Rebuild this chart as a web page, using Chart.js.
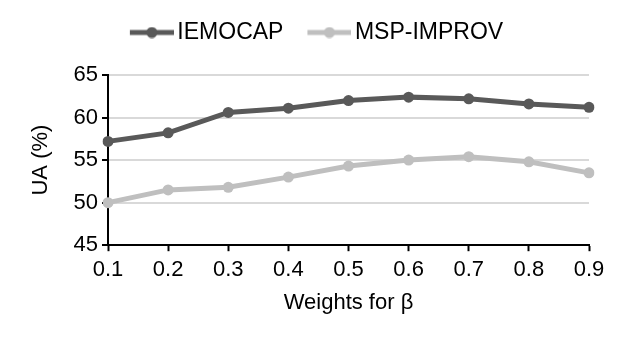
<!DOCTYPE html>
<html>
<head>
<meta charset="utf-8">
<script src="https://cdn.jsdelivr.net/npm/chart.js@4.4.1/dist/chart.umd.min.js"></script>
<style>
  html, body { margin: 0; padding: 0; background: #fff; }
  #wrap { width: 629px; height: 346px; }
</style>
</head>
<body>
<div id="wrap"><canvas id="myChart"></canvas></div>
<script>
// data
const weights = ['0.1', '0.2', '0.3', '0.4', '0.5', '0.6', '0.7', '0.8', '0.9'];
const iemocap = [57.2, 58.2, 60.6, 61.1, 62.0, 62.4, 62.2, 61.6, 61.2];
const mspImprov = [50.0, 51.5, 51.8, 53.0, 54.3, 55.0, 55.4, 54.8, 53.5];
const yTicks = [45, 50, 55, 60, 65];

const darkGray = '#595959';
const lightGray = '#bfbfbf';
const font = "'Liberation Sans', Arial, sans-serif";

// legend marker: a short line with a dot on it
function legendMarker(color) {
    const c = document.createElement('canvas');
    c.width = 62;
    c.height = 12;
    const g = c.getContext('2d');
    g.strokeStyle = color;
    g.lineWidth = 5;
    g.beginPath();
    g.moveTo(18, 6);
    g.lineTo(62, 6);
    g.stroke();
    g.fillStyle = color;
    g.beginPath();
    g.arc(40, 6, 5.5, 0, Math.PI * 2);
    g.fill();
    return c;
}

// push the plot a bit further below the legend, and nudge the legend right
const legendGap = {
    id: 'legendGap',
    beforeUpdate(chart) {
        const legend = chart.legend;
        if (legend && !legend._gapPatched) {
            const fit = legend.fit;
            legend.fit = function () {
                fit.call(this);
                this.height += 21;
            };
            legend._gapPatched = true;
        }
    },
    afterLayout(chart) {
        if (chart.legend) {
            chart.legend.left += 17;
            chart.legend.right += 17;
        }
    }
};

const ctx = document.getElementById('myChart').getContext('2d');

const myChart = new Chart(ctx, {
    type: 'line',
    data: {
        labels: weights,
        datasets: [{
            label: 'IEMOCAP',
            data: iemocap,
            borderColor: darkGray,
            backgroundColor: darkGray,
            borderWidth: 5,
            pointRadius: 5.5,
            pointBorderWidth: 0
        }, {
            label: 'MSP-IMPROV',
            data: mspImprov,
            borderColor: lightGray,
            backgroundColor: lightGray,
            borderWidth: 5,
            pointRadius: 5.5,
            pointBorderWidth: 0
        }]
    },
    plugins: [legendGap],
    options: {
        responsive: true,
        maintainAspectRatio: false,
        animation: false,
        elements: {
            line: { tension: 0 },
            point: { pointStyle: 'circle' }
        },
        layout: {
            padding: { left: 0, right: 40, top: 7, bottom: 30 }
        },
        plugins: {
            tooltip: { enabled: false },
            legend: {
                display: true,
                position: 'top',
                labels: {
                    color: '#000',
                    font: { family: font, size: 23 },
                    usePointStyle: true,
                    pointStyleWidth: 46,
                    padding: 14,
                    generateLabels: (chart) => chart.data.datasets.map((ds, i) => ({
                        text: ds.label,
                        fillStyle: ds.borderColor,
                        strokeStyle: ds.borderColor,
                        lineWidth: 0,
                        pointStyle: legendMarker(ds.borderColor),
                        datasetIndex: i
                    }))
                }
            }
        },
        scales: {
            x: {
                offset: false,
                grid: {
                    drawOnChartArea: false,
                    drawTicks: true,
                    tickLength: 6,
                    tickColor: '#000',
                    tickWidth: 2
                },
                border: { color: '#000', width: 2 },
                ticks: {
                    color: '#000',
                    font: { family: font, size: 22 },
                    padding: 6,
                    maxRotation: 0
                },
                title: {
                    display: true,
                    text: 'Weights for β',
                    color: '#000',
                    font: { family: font, size: 22 },
                    padding: { top: 0, bottom: 0 }
                }
            },
            y: {
                min: 45,
                max: 65,
                afterBuildTicks: (scale) => {
                    scale.ticks = yTicks.map(v => ({ value: v }));
                },
                afterFit: (scale) => {
                    scale.width = 108;
                },
                grid: {
                    color: '#d9d9d9',
                    lineWidth: 2,
                    tickLength: 6,
                    tickColor: '#000',
                    tickWidth: 2
                },
                border: { color: '#000', width: 2 },
                ticks: {
                    color: '#000',
                    font: { family: font, size: 22 },
                    padding: 4
                },
                title: {
                    display: true,
                    text: 'UA (%)',
                    color: '#000',
                    font: { family: font, size: 22 },
                    padding: { top: 28, bottom: 4 }
                }
            }
        }
    }
});
</script>
</body>
</html>
